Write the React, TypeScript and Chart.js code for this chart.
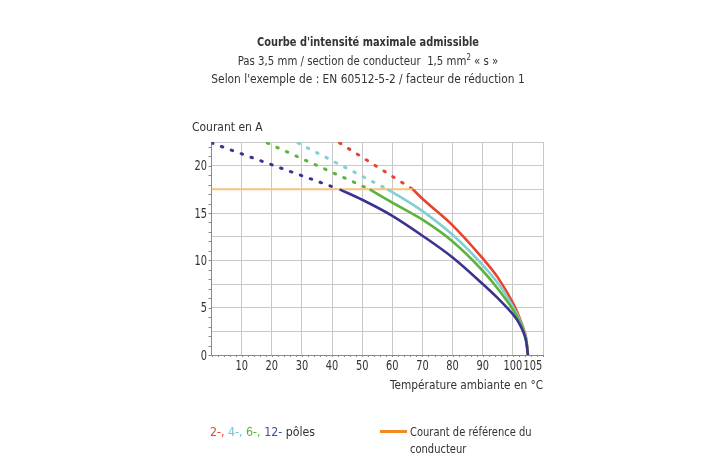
import React, { useEffect, useRef } from "react";
import { Chart, registerables } from "chart.js";

Chart.register(...registerables);

const FONT = "'DejaVu Sans Condensed', 'DejaVu Sans', sans-serif";
const TEXT = "#333333";

// x tick positions (°C) and y range (A)
const X_TICKS = [0, 10, 20, 30, 40, 50, 60, 70, 80, 90, 100, 105, 110];
const X_LABELS = ["", "10", "20", "30", "40", "50", "60", "70", "80", "90", "100", "105", ""];
const Y_MAX = 22.5;
const Y_STEP = 2.5;
const REF_CURRENT = 17.5;
const REF_END_T = 66.8;

// 12 poles (dark blue)
const P12_DASH_T = [0, 42.5];
const P12_DASH_I = [22.4, 17.5];
const P12_T = [42.5, 50, 60, 70, 80, 90, 95, 100, 102, 103.5, 104.5, 105];
const P12_I = [17.5, 16.4, 14.7, 12.6, 10.3, 7.5, 6.0, 4.3, 3.4, 2.4, 1.3, 0];

// 6 poles (green)
const P6_DASH_T = [18.5, 52.5];
const P6_DASH_I = [22.4, 17.5];
const P6_T = [52.5, 60, 70, 80, 90, 95, 100, 102, 103.5, 104.5, 105];
const P6_I = [17.5, 16.1, 14.3, 12.0, 8.9, 7.0, 4.8, 3.7, 2.6, 1.4, 0];

// 4 poles (cyan)
const P4_DASH_T = [28.7, 58.4];
const P4_DASH_I = [22.4, 17.5];
const P4_T = [58.4, 60, 70, 80, 90, 95, 100, 102, 103.5, 104.5, 105];
const P4_I = [17.5, 17.2, 15.2, 12.7, 9.5, 7.6, 5.1, 3.9, 2.7, 1.5, 0];

// 2 poles (red)
const P2_DASH_T = [42.5, 66.8];
const P2_DASH_I = [22.4, 17.5];
const P2_T = [66.8, 70, 80, 90, 95, 100, 102, 103.5, 104.5, 105];
const P2_I = [17.5, 16.5, 13.7, 10.2, 8.2, 5.5, 4.1, 2.8, 1.6, 0];

const C_RED = "#e8432d";
const C_CYAN = "#82cfd5";
const C_GREEN = "#5cb43c";
const C_BLUE = "#3a3390";
const C_REF_PLOT = "#f6c27c";
const C_REF_LEGEND = "#f28a22";

const pts = (xs: number[], ys: number[]) => xs.map((x, i) => ({ x, y: ys[i] }));

const TICK_SCALE = 0.78;

const axisDecor = {
  id: "axisDecor",
  afterDraw(chart: any) {
    const { ctx, scales } = chart;
    const xs = scales.x;
    const ys = scales.y;
    ctx.save();
    // minor ticks
    ctx.strokeStyle = "#8a8a8a";
    ctx.lineWidth = 1;
    ctx.beginPath();
    for (let v = 0; v <= Y_MAX; v += 1) {
      const y = Math.round(ys.getPixelForValue(v)) + 0.5;
      ctx.moveTo(xs.left - 3, y);
      ctx.lineTo(xs.left, y);
    }
    for (let v = 0; v <= 110; v += 2) {
      const x = Math.round(xs.getPixelForValue(v)) + 0.5;
      ctx.moveTo(x, ys.bottom);
      ctx.lineTo(x, ys.bottom + 2);
    }
    ctx.stroke();
    // condensed tick labels
    ctx.fillStyle = TEXT;
    ctx.font = `14px ${FONT}`;
    ctx.textBaseline = "middle";
    xs.ticks.forEach((t: any, i: number) => {
      const label = X_LABELS[X_TICKS.indexOf(t.value)] ?? "";
      if (!label) return;
      let x = xs.getPixelForTick(i);
      if (t.value === 105) x += 5;
      ctx.save();
      ctx.translate(x, ys.bottom + 11);
      ctx.scale(TICK_SCALE, 1);
      ctx.textAlign = "center";
      ctx.fillText(label, 0, 0);
      ctx.restore();
    });
    ys.ticks.forEach((t: any, i: number) => {
      if (t.value % 5 !== 0) return;
      const y = ys.getPixelForTick(i);
      ctx.save();
      ctx.translate(xs.left - 4.5, y + 1);
      ctx.scale(TICK_SCALE, 1);
      ctx.textAlign = "right";
      ctx.fillText(String(t.value), 0, 0);
      ctx.restore();
    });
    ctx.restore();
  },
};

export default function App() {
  const ref = useRef<HTMLCanvasElement>(null);

  useEffect(() => {
    if (!ref.current) return;
    const dash = (xs: number[], ys: number[], color: string) => ({
      data: pts(xs, ys),
      borderColor: color,
      borderWidth: 3,
      borderDash: [1.5, 9],
      borderCapStyle: "round" as const,
      pointRadius: 0,
      tension: 0,
      order: 5,
    });
    const solid = (xs: number[], ys: number[], color: string, order: number) => ({
      data: pts(xs, ys),
      borderColor: color,
      borderWidth: 2.6,
      pointRadius: 0,
      cubicInterpolationMode: "monotone" as const,
      order,
    });
    const chart = new Chart(ref.current, {
      type: "line",
      data: {
        datasets: [
          dash(P12_DASH_T, P12_DASH_I, C_BLUE),
          dash(P6_DASH_T, P6_DASH_I, C_GREEN),
          dash(P4_DASH_T, P4_DASH_I, C_CYAN),
          dash(P2_DASH_T, P2_DASH_I, C_RED),
          {
            data: pts([0, REF_END_T], [REF_CURRENT, REF_CURRENT]),
            borderColor: C_REF_PLOT,
            borderWidth: 2,
            pointRadius: 0,
            order: 4,
          },
          solid(P2_T, P2_I, C_RED, 3),
          solid(P4_T, P4_I, C_CYAN, 2),
          solid(P6_T, P6_I, C_GREEN, 1),
          solid(P12_T, P12_I, C_BLUE, 0),
        ],
      },
      options: {
        animation: false,
        responsive: false,
        devicePixelRatio: 1,
        layout: { padding: { left: 150, top: 142, right: 180, bottom: 81 } },
        plugins: { legend: { display: false }, tooltip: { enabled: false } },
        scales: {
          x: {
            type: "linear",
            min: 0,
            max: 110,
            afterBuildTicks: (s: any) => {
              s.ticks = X_TICKS.map((v) => ({ value: v }));
            },
            afterFit: (s: any) => {
              s.height = 20;
            },
            ticks: { display: false, autoSkip: false },
            grid: {
              drawTicks: false,
              color: (c: any) => (c.tick && c.tick.value === 105 ? "rgba(0,0,0,0)" : "#c8c8c8"),
              lineWidth: 1,
            },
            border: { color: "#8a8a8a", width: 1 },
          },
          y: {
            type: "linear",
            min: 0,
            max: Y_MAX,
            afterFit: (s: any) => {
              s.width = 61.5;
            },
            ticks: { display: false, stepSize: Y_STEP },
            grid: { drawTicks: false, color: "#c8c8c8", lineWidth: 1 },
            border: { color: "#8a8a8a", width: 1 },
          },
        },
      },
      plugins: [axisDecor],
    });
    return () => chart.destroy();
  }, []);

  const txt: React.CSSProperties = {
    position: "absolute",
    fontFamily: FONT,
    fontSize: 13,
    color: TEXT,
    whiteSpace: "nowrap",
    lineHeight: "17px",
  };
  const centered = (k: number): React.CSSProperties => ({
    ...txt,
    left: 368,
    transform: `translateX(-50%) scaleX(${k})`,
  });

  return (
    <div style={{ position: "absolute", left: 0, top: 0, width: 723, height: 456, background: "#fff", overflow: "hidden" }}>
      <canvas ref={ref} width={723} height={456} style={{ position: "absolute", left: 0, top: 0, width: 723, height: 456 }} />
      <div style={{ ...centered(0.84), top: 33, fontWeight: "bold" }}>Courbe d'intensité maximale admissible</div>
      <div style={{ ...centered(0.87), top: 52 }}>
        Pas 3,5 mm / section de conducteur&nbsp; 1,5 mm<sup style={{ fontSize: 9, lineHeight: 0 }}>2</sup> « s »
      </div>
      <div style={{ ...centered(0.91), top: 70 }}>Selon l'exemple de : EN 60512-5-2 / facteur de réduction 1</div>
      <div style={{ ...txt, left: 192, top: 118, transform: "scaleX(0.92)", transformOrigin: "left center" }}>
        Courant en A
      </div>
      <div style={{ ...txt, right: 723 - 543, top: 376, transform: "scaleX(0.905)", transformOrigin: "right center" }}>
        Température ambiante en °C
      </div>
      <div style={{ ...txt, left: 210, top: 423, transform: "scaleX(0.945)", transformOrigin: "left center" }}>
        <span style={{ color: C_RED }}>2-, </span>
        <span style={{ color: "#6fc6cf" }}>4-, </span>
        <span style={{ color: C_GREEN }}>6-, </span>
        <span style={{ color: "#3c4f9e" }}>12-</span> pôles
      </div>
      <div style={{ position: "absolute", left: 380, top: 430, width: 27, height: 3, background: C_REF_LEGEND }} />
      <div style={{ ...txt, left: 410, top: 423, lineHeight: "17px", transform: "scaleX(0.85)", transformOrigin: "left top" }}>
        Courant de référence du
        <br />
        conducteur
      </div>
    </div>
  );
}
